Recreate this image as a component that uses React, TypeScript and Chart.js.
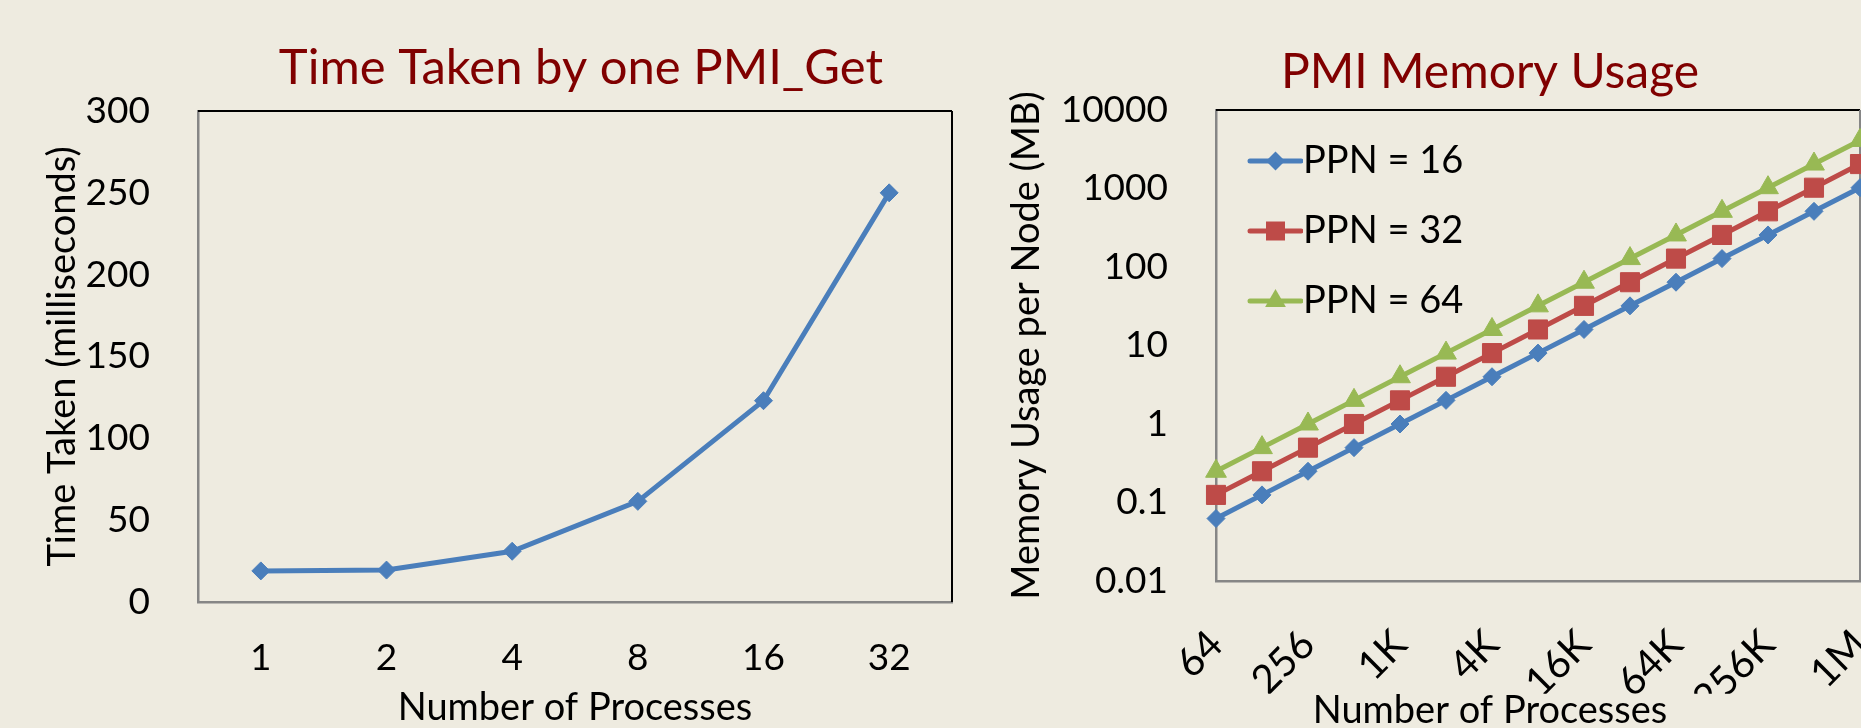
import React, { useEffect, useRef } from 'react';
import { Chart, registerables } from 'chart.js';

Chart.register(...registerables);

// ---------- data ----------
const timeTitle = 'Time Taken by one PMI_Get';
const timeCategories = ['1', '2', '4', '8', '16', '32'];
const timeValues = [19, 19.5, 31, 61.5, 123, 250];
const timeYTitle = 'Time Taken (milliseconds)';
const xTitle = 'Number of Processes';

const memTitle = 'PMI Memory Usage';
const memCategories = ['64', '128', '256', '512', '1K', '2K', '4K', '8K', '16K', '32K', '64K', '128K', '256K', '512K', '1M'];
const ppn16 = [0.0625, 0.125, 0.25, 0.5, 1, 2, 4, 8, 16, 32, 64, 128, 256, 512, 1024];
const ppn32 = [0.125, 0.25, 0.5, 1, 2, 4, 8, 16, 32, 64, 128, 256, 512, 1024, 2048];
const ppn64 = [0.25, 0.5, 1, 2, 4, 8, 16, 32, 64, 128, 256, 512, 1024, 2048, 4096];
const memSeriesNames = ['PPN = 16', 'PPN = 32', 'PPN = 64'];
const memTicks = [0.01, 0.1, 1, 10, 100, 1000, 10000];
const memTickLabels = ['0.01', '0.1', '1', '10', '100', '1000', '10000'];
const memYTitle = 'Memory Usage per Node (MB)';

// ---------- style ----------
const FONT = "Lato, 'Open Sans', 'DejaVu Sans', sans-serif";
const BG = '#EEEBE0';
const TITLE_COLOR = '#800000';
const BLUE = '#4A7EBB';
const RED = '#BE4B48';
const GREEN = '#98B954';
const GRAY = '#868686';
const LINE_W = 5;

const plotBox = {
  id: 'plotBox',
  beforeDatasetsDraw(chart: any, _args: any, opts: any) {
    const { ctx, chartArea } = chart;
    const { left, right, top, bottom } = chartArea;
    ctx.save();
    ctx.lineWidth = 2;
    ctx.strokeStyle = '#000';
    ctx.beginPath();
    ctx.moveTo(left, top);
    ctx.lineTo(right, top);
    ctx.stroke();
    ctx.strokeStyle = opts.rightColor || '#000';
    ctx.beginPath();
    ctx.moveTo(right, top);
    ctx.lineTo(right, bottom);
    ctx.stroke();
    ctx.restore();
  },
};

function legendImage(color: string, shape: string): HTMLCanvasElement {
  const c = document.createElement('canvas');
  c.width = 74;
  c.height = 28;
  const g = c.getContext('2d')!;
  const cy = 14;
  const cx = 46.5;
  g.strokeStyle = color;
  g.fillStyle = color;
  g.lineWidth = LINE_W;
  g.lineCap = 'round';
  g.beginPath();
  g.moveTo(21, cy);
  g.lineTo(72, cy);
  g.stroke();
  g.beginPath();
  if (shape === 'diamond') {
    const r = 9.5;
    g.moveTo(cx - r, cy);
    g.lineTo(cx, cy - r);
    g.lineTo(cx + r, cy);
    g.lineTo(cx, cy + r);
  } else if (shape === 'square') {
    const s = 9.5;
    g.rect(cx - s, cy - s, 2 * s, 2 * s);
  } else {
    const r = 12;
    g.moveTo(cx, cy - r);
    g.lineTo(cx + 0.866 * r, cy + 0.5 * r);
    g.lineTo(cx - 0.866 * r, cy + 0.5 * r);
  }
  g.closePath();
  g.fill();
  return c;
}

const tickFont = { family: FONT, size: 37, weight: 'normal' as const };
const rotTickFont = { family: FONT, size: 40, weight: 'normal' as const };
const labelFont = { family: FONT, size: 38, weight: 'normal' as const, lineHeight: 1 };

// invisible right-hand axis that only reserves space, so the titles centre where they should
function spacerAxis(width: number): any {
  return {
    type: 'linear',
    position: 'right',
    display: true,
    grid: { display: false },
    border: { display: false },
    ticks: { display: false },
    afterFit: (s: any) => {
      s.width = width;
    },
  };
}

function leftConfig(): any {
  return {
    type: 'line',
    data: {
      labels: timeCategories,
      datasets: [
        {
          label: 'Time Taken',
          data: timeValues,
          yAxisID: 'y',
          borderColor: BLUE,
          backgroundColor: BLUE,
          pointBackgroundColor: BLUE,
          pointBorderColor: BLUE,
          borderWidth: LINE_W,
          pointStyle: 'rectRot',
          pointRadius: 9,
          pointBorderWidth: 1,
          tension: 0,
        },
      ],
    },
    options: {
      animation: false,
      responsive: false,
      devicePixelRatio: 1,
      events: [],
      layout: { padding: 0 },
      plugins: {
        legend: { display: false },
        tooltip: { enabled: false },
        title: {
          display: true,
          text: timeTitle,
          color: TITLE_COLOR,
          fullSize: true,
          font: { family: FONT, size: 49, weight: 'normal', lineHeight: 1 },
          padding: { top: 43.5, bottom: 18.5 },
        },
        plotBox: { rightColor: '#000' },
      },
      scales: {
        x: {
          type: 'category',
          offset: true,
          grid: { display: false },
          border: { display: true, color: GRAY, width: 2.5 },
          ticks: { color: '#000', font: tickFont, padding: 26, maxRotation: 0, autoSkip: false },
          title: { display: true, text: xTitle, color: '#000', font: labelFont, padding: { top: 0, bottom: 1.5 } },
          afterFit: (s: any) => {
            s.height = 126;
          },
        },
        y: {
          type: 'linear',
          position: 'left',
          min: 0,
          max: 300,
          grid: { display: false },
          border: { display: true, color: GRAY, width: 2.5 },
          ticks: { color: '#000', font: tickFont, padding: 40, stepSize: 50 },
          title: { display: true, text: timeYTitle, color: '#000', font: labelFont, padding: { top: 44, bottom: 0 } },
          afterFit: (s: any) => {
            s.width = 198;
          },
        },
        yspace: spacerAxis(210),
      },
    },
    plugins: [plotBox],
  };
}

function rightConfig(): any {
  const colors = [BLUE, RED, GREEN];
  const styles = ['rectRot', 'rect', 'triangle'];
  const radii = [9, 13.5, 12];
  const shapes = ['diamond', 'square', 'triangle'];
  const series = [ppn16, ppn32, ppn64];
  const images = shapes.map((sh, i) => legendImage(colors[i], sh));
  return {
    type: 'line',
    data: {
      labels: memCategories,
      datasets: series.map((d, i) => ({
        label: memSeriesNames[i],
        data: d,
        yAxisID: 'y',
        borderColor: colors[i],
        backgroundColor: colors[i],
        pointBackgroundColor: colors[i],
        pointBorderColor: colors[i],
        borderWidth: LINE_W,
        pointStyle: styles[i],
        pointRadius: radii[i],
        pointBorderWidth: 1,
        tension: 0,
      })),
    },
    options: {
      animation: false,
      responsive: false,
      devicePixelRatio: 1,
      events: [],
      layout: { padding: 0 },
      plugins: {
        tooltip: { enabled: false },
        title: {
          display: true,
          text: memTitle,
          color: TITLE_COLOR,
          fullSize: true,
          font: { family: FONT, size: 48, weight: 'normal', lineHeight: 1 },
          padding: { top: 49, bottom: 13 },
        },
        subtitle: {
          display: true,
          position: 'bottom',
          text: xTitle,
          color: '#000',
          fullSize: true,
          font: { family: FONT, size: 38, weight: 'normal', lineHeight: 0.9 },
          padding: { top: 0, bottom: 0 },
        },
        legend: {
          display: true,
          position: 'chartArea',
          align: 'start',
          title: { display: true, text: '', font: { family: FONT, size: 10, lineHeight: 1 }, padding: { top: 100, bottom: 0 } },
          labels: {
            usePointStyle: true,
            pointStyleWidth: 36,
            padding: 32,
            color: '#000',
            font: { family: FONT, size: 38, weight: 'normal' },
            generateLabels: (chart: any) =>
              chart.data.datasets.map((ds: any, i: number) => ({
                text: ds.label,
                pointStyle: images[i],
                fillStyle: colors[i],
                strokeStyle: colors[i],
                fontColor: '#000',
                lineWidth: 0,
                hidden: false,
                datasetIndex: i,
              })),
          },
        },
        plotBox: { rightColor: GRAY },
      },
      scales: {
        x: {
          type: 'category',
          offset: false,
          grid: { display: false },
          border: { display: true, color: GRAY, width: 2.5 },
          ticks: {
            color: '#000',
            font: rotTickFont,
            padding: 32,
            minRotation: 45,
            maxRotation: 45,
            autoSkip: false,
            callback: (_v: any, i: number) => (i % 2 === 0 ? memCategories[i] : ''),
          },
          afterFit: (s: any) => {
            s.height = 112.8;
          },
        },
        y: {
          type: 'logarithmic',
          position: 'left',
          min: 0.01,
          max: 10000,
          grid: { display: false },
          border: { display: true, color: GRAY, width: 2.5 },
          afterBuildTicks: (s: any) => {
            s.ticks = memTicks.map((v) => ({ value: v }));
          },
          ticks: {
            color: '#000',
            font: tickFont,
            padding: 40,
            callback: (_v: any, i: number) => memTickLabels[i],
          },
          title: { display: true, text: memYTitle, color: '#000', font: labelFont, padding: { top: 48, bottom: 0 } },
          afterFit: (s: any) => {
            s.width = 256;
          },
        },
        yspace: spacerAxis(160),
      },
    },
    plugins: [plotBox],
  };
}

export default function App() {
  const leftRef = useRef<HTMLCanvasElement>(null);
  const rightRef = useRef<HTMLCanvasElement>(null);

  useEffect(() => {
    const left = new Chart(leftRef.current!, leftConfig());
    const right = new Chart(rightRef.current!, rightConfig());
    return () => {
      left.destroy();
      right.destroy();
    };
  }, []);

  return (
    <div
      style={{
        position: 'fixed',
        left: 0,
        top: 0,
        width: 1861,
        height: 728,
        overflow: 'hidden',
        background: BG,
      }}
    >
      <canvas
        ref={leftRef}
        width={1162}
        height={728}
        style={{ position: 'absolute', left: 0, top: 0, width: 1162, height: 728 }}
      />
      <canvas
        ref={rightRef}
        width={1060}
        height={728}
        style={{ position: 'absolute', left: 960, top: 0, width: 1060, height: 728 }}
      />
    </div>
  );
}
